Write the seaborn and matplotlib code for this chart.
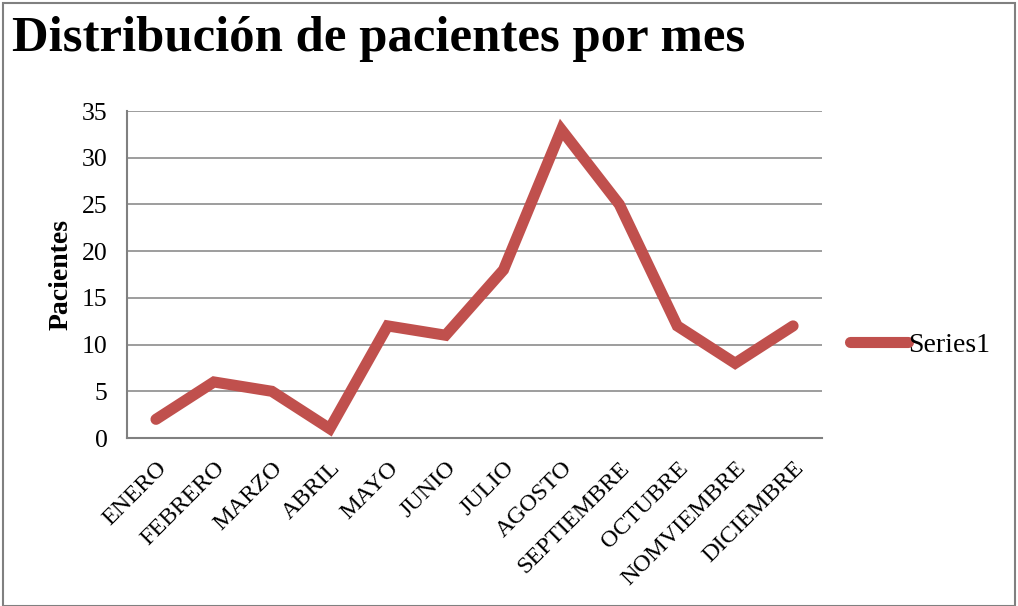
import matplotlib
matplotlib.use('Agg')
import matplotlib.pyplot as plt
import pandas as pd
import seaborn as sns
from matplotlib.patches import Rectangle

meses = ['ENERO', 'FEBRERO', 'MARZO', 'ABRIL', 'MAYO', 'JUNIO', 'JULIO',
         'AGOSTO', 'SEPTIEMBRE', 'OCTUBRE', 'NOMVIEMBRE', 'DICIEMBRE']
pacientes = [2, 6, 5, 1, 12, 11, 18, 33, 25, 12, 8, 12]
y_ticks = [0, 5, 10, 15, 20, 25, 30, 35]

data = pd.DataFrame({'mes': meses, 'pacientes': pacientes})

sns.set_style('white')
plt.rcParams['font.family'] = ['Liberation Serif', 'DejaVu Serif']
plt.rcParams['text.color'] = 'black'
plt.rcParams['xtick.color'] = 'black'
plt.rcParams['ytick.color'] = 'black'
plt.rcParams['axes.labelcolor'] = 'black'

fig = plt.figure(figsize=(10.18, 6.06), dpi=100)
ax = fig.add_axes([0.1248, 0.2772, 0.6827, 0.5396])

sns.lineplot(data=data, x='mes', y='pacientes', ax=ax, sort=False,
             color='#C0504D', linewidth=8, label='Series1',
             solid_capstyle='round', solid_joinstyle='miter')

ax.set_xlim(-0.5, len(meses) - 0.5)
ax.set_ylim(0, 35)
ax.set_yticks(y_ticks)
ax.grid(axis='y', color='#8c8c8c', linewidth=1.2)
ax.set_axisbelow(True)
for s in ['top', 'right']:
    ax.spines[s].set_visible(False)
for s in ['left', 'bottom']:
    ax.spines[s].set_color('#808080')
    ax.spines[s].set_linewidth(1.5)

ax.tick_params(axis='y', labelsize=18.5, length=0, pad=14)
ax.tick_params(axis='x', labelsize=17.5, length=0, pad=14)
plt.setp(ax.get_xticklabels(), rotation=45, ha='right', rotation_mode='anchor')

ax.set_xlabel('')
ax.set_ylabel('Pacientes', fontsize=20, fontweight='bold', labelpad=6)

ax.get_legend().remove()
handles, labels = ax.get_legend_handles_labels()
fig.legend(handles, labels, loc='center left', bbox_to_anchor=(0.824, 0.431),
           frameon=False, fontsize=20, handlelength=2.1, handletextpad=0.0,
           borderaxespad=0)

fig.text(0.012, 0.935, 'Distribución de pacientes por mes', fontsize=36.5,
         fontweight='bold', ha='left', va='center')

fig.patches.append(Rectangle((0.003, 0.0), 0.994, 0.995, transform=fig.transFigure,
                             fill=False, edgecolor='#808080', linewidth=1.5))

fig.savefig('out.png', dpi=100)
